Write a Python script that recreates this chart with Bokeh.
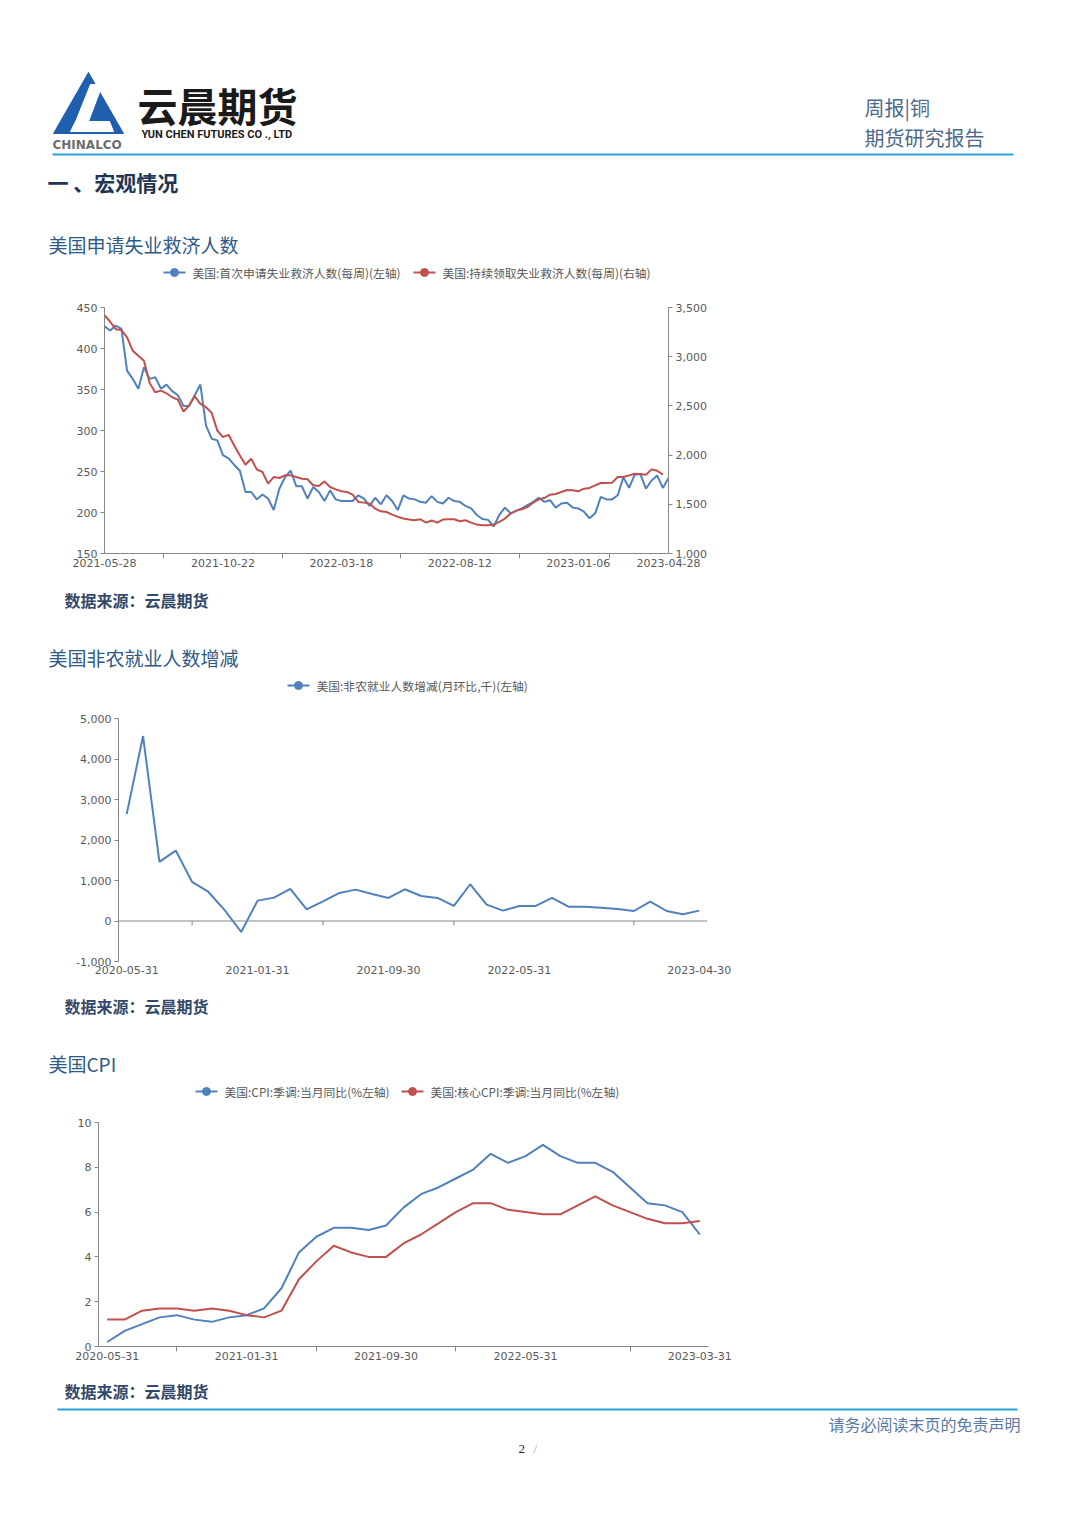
import numpy as np
from bokeh.plotting import figure
from bokeh.layouts import column
from bokeh.models import Range1d, LinearAxis, FixedTicker, NumeralTickFormatter, Span
from bokeh.core.properties import value
from bokeh.embed import file_html
from bokeh.resources import INLINE

# ---------------- data ----------------
# Chart 1: weekly, 2021-05-28 .. 2023-04-28
claims_tick_labels = ["2021-05-28", "2021-10-22", "2022-03-18", "2022-08-12", "2023-01-06", "2023-04-28"]
claims_tick_index = [0, 21, 42, 63, 84, 100]
initial_claims = [427, 422, 428, 424, 373, 363, 351, 377, 363, 365,
                  351, 356, 348, 343, 330, 330, 343, 356, 306, 290,
                  288, 270, 266, 258, 251, 225, 225, 216, 222, 217,
                  203, 229, 243, 251, 232, 232, 217, 231, 225, 214,
                  227, 216, 214, 214, 214, 221, 217, 208, 218, 210,
                  221, 214, 203, 221, 217, 216, 213, 212, 220, 213,
                  211, 218, 214, 213, 208, 205, 197, 192, 191, 183,
                  197, 206, 199, 202, 205, 209, 213, 218, 213, 215,
                  206, 211, 212, 206, 205, 201, 193, 199, 219, 216,
                  216, 221, 243, 230, 246, 247, 229, 239, 245, 230,
                  242]
continued_claims = [3422, 3355, 3280, 3270, 3196, 3061, 3010, 2960, 2733, 2639,
                    2655, 2628, 2588, 2564, 2443, 2503, 2598, 2520, 2487, 2429,
                    2250, 2183, 2206, 2098, 1997, 1902, 1963, 1855, 1828, 1710,
                    1777, 1767, 1794, 1794, 1777, 1760, 1754, 1693, 1686, 1733,
                    1676, 1652, 1632, 1625, 1598, 1524, 1517, 1507, 1456, 1429,
                    1422, 1395, 1372, 1355, 1345, 1338, 1348, 1314, 1335, 1314,
                    1345, 1348, 1348, 1328, 1338, 1314, 1294, 1287, 1287, 1294,
                    1321, 1355, 1406, 1436, 1450, 1473, 1517, 1551, 1564, 1598,
                    1605, 1625, 1645, 1642, 1632, 1659, 1666, 1693, 1716, 1716,
                    1720, 1777, 1777, 1794, 1811, 1808, 1801, 1855, 1841, 1801]

# Chart 2: monthly 2020-05-31 .. 2023-04-30
nfp_tick_labels = ["2020-05-31", "2021-01-31", "2021-09-30", "2022-05-31", "2023-04-30"]
nfp_tick_index = [0, 8, 16, 24, 35]
nonfarm = [2638, 4567, 1459, 1739, 964, 717, 264, -272, 503, 577,
           791, 289, 486, 692, 775, 668, 569, 783, 618, 569,
           371, 907, 404, 256, 371, 371, 569, 354, 354, 330,
           297, 247, 478, 247, 165, 256]

# Chart 3: monthly 2020-05-31 .. 2023-03-31
cpi_tick_labels = ["2020-05-31", "2021-01-31", "2021-09-30", "2022-05-31", "2023-03-31"]
cpi_tick_index = [0, 8, 16, 24, 34]
cpi = [0.2, 0.7, 1.0, 1.3, 1.4, 1.2, 1.1, 1.3, 1.4, 1.7,
       2.6, 4.2, 4.9, 5.3, 5.3, 5.2, 5.4, 6.2, 6.8, 7.1,
       7.5, 7.9, 8.6, 8.2, 8.5, 9.0, 8.5, 8.2, 8.2, 7.8,
       7.1, 6.4, 6.3, 6.0, 5.0]
core_cpi = [1.2, 1.2, 1.6, 1.7, 1.7, 1.6, 1.7, 1.6, 1.4, 1.3,
            1.6, 3.0, 3.8, 4.5, 4.2, 4.0, 4.0, 4.6, 5.0, 5.5,
            6.0, 6.4, 6.4, 6.1, 6.0, 5.9, 5.9, 6.3, 6.7, 6.3,
            6.0, 5.7, 5.5, 5.5, 5.6]

# ---------------- style ----------------
W = 1080
CJK = "Noto Sans CJK SC"
TICKFONT = "DejaVu Sans"
BLUE = "#4f81bd"
RED = "#c0504d"
AXIS = "#868686"
TICKTXT = "#595959"
TITLE_C = "#2e5a88"
SRC_C = "#34496a"


def deco(h):
    p = figure(width=W, height=h, x_range=Range1d(0, W), y_range=Range1d(h, 0),
               output_backend="svg", toolbar_location=None, x_axis_type=None,
               y_axis_type=None, min_border=0, outline_line_color=None,
               frame_align=False)
    p.grid.visible = False
    return p


def txt(p, x, y, s, size, color, font=CJK, style="normal", align="left"):
    p.text(x=[x], y=[y], text=[s], text_font=value(font), text_font_size=f"{size}px",
           text_color=color, text_baseline="middle", text_align=align,
           text_font_style=style)


def legend_item(p, x, y, color, label):
    p.line(x=[x, x + 22], y=[y, y], line_color=color, line_width=2)
    p.scatter(x=[x + 11], y=[y], size=8, fill_color=color, line_color=color)
    txt(p, x + 29, y, label, 11.8, TICKTXT)


def style_axis(ax):
    ax.axis_line_color = AXIS
    ax.major_tick_line_color = AXIS
    ax.major_tick_out = 4
    ax.major_tick_in = 0
    ax.minor_tick_line_color = None
    ax.major_label_text_font = TICKFONT
    ax.major_label_text_font_size = "11px"
    ax.major_label_text_color = TICKTXT
    ax.major_label_standoff = 3


def chart(h, left, right, top, bottom, xr, yr):
    p = figure(width=W, height=h, x_range=xr, y_range=yr, output_backend="svg",
               toolbar_location=None, min_border_left=left, min_border_right=right,
               min_border_top=top, min_border_bottom=bottom, outline_line_color=None,
               frame_align=False)
    p.grid.visible = False
    for ax in p.axis:
        style_axis(ax)
    return p


def style_xaxis(ax, ticks, labels, minor, line=True, standoff=0):
    ax.ticker = FixedTicker(ticks=ticks, minor_ticks=minor)
    ax.major_label_overrides = {t: l for t, l in zip(ticks, labels)}
    ax.major_tick_line_color = None
    ax.major_tick_out = 0
    ax.minor_tick_line_color = AXIS if line else None
    ax.minor_tick_out = 5
    ax.minor_tick_in = 0
    ax.major_label_standoff = standoff
    if not line:
        ax.axis_line_color = None


# ---------------- header ----------------
hdr = deco(295)
hdr.patch(x=[88, 53, 123], y=[72, 133, 133], color="#1f5fae")
hdr.patch(x=[90, 102, 88, 109, 113, 70, 76], y=[84, 84, 121, 121, 131, 131, 119], color="white")
txt(hdr, 52, 144, "CHINALCO", 12, "#6d6d6d", font="DejaVu Sans", style="bold")
txt(hdr, 137, 104, "云晨期货", 40, "#1a1a1a", style="bold")
txt(hdr, 141, 134, "YUN CHEN FUTURES CO ., LTD", 11, "#1a1a1a", font="Roboto", style="bold")
txt(hdr, 864, 107, "周报|铜", 20, "#4d6a8c")
txt(hdr, 864, 137, "期货研究报告", 20, "#4d6a8c")
hdr.line(x=[52, 1013], y=[154, 154], line_color="#2a9fd8", line_width=2)
txt(hdr, 47, 181, "一 、宏观情况", 21, "#1f3556", style="bold")
txt(hdr, 48, 244, "美国申请失业救济人数", 19, TITLE_C)
legend_item(hdr, 163, 272, BLUE, "美国:首次申请失业救济人数(每周)(左轴)")
legend_item(hdr, 413, 272, RED, "美国:持续领取失业救济人数(每周)(右轴)")

# ---------------- chart 1 ----------------
wk = list(range(len(initial_claims)))
c1 = chart(285, 104, 412, 12, 27, Range1d(0, 100), Range1d(150, 450))
c1.extra_y_ranges = {"right": Range1d(1000, 3500)}
rax = LinearAxis(y_range_name="right")
style_axis(rax)
rax.ticker = FixedTicker(ticks=[1000, 1500, 2000, 2500, 3000, 3500])
rax.formatter = NumeralTickFormatter(format="0,0")
c1.add_layout(rax, "right")
c1.yaxis[0].ticker = FixedTicker(ticks=[150, 200, 250, 300, 350, 400, 450])
style_xaxis(c1.xaxis[0], claims_tick_index, claims_tick_labels, [10.5, 31.5, 52.5, 73.5, 89.5])
c1.line(wk, initial_claims, line_color=BLUE, line_width=2)
c1.line(wk[:len(continued_claims)], continued_claims, line_color=RED, line_width=2, y_range_name="right")

# ---------------- middle 1 ----------------
m1 = deco(125)
txt(m1, 64, 19, "数据来源：云晨期货", 16, SRC_C, style="bold")
txt(m1, 48, 77, "美国非农就业人数增减", 19, TITLE_C)
legend_item(m1, 287, 105, BLUE, "美国:非农就业人数增减(月环比,千)(左轴)")

# ---------------- chart 2 ----------------
mo2 = list(range(len(nonfarm)))
c2 = chart(280, 118, 373, 13, 24, Range1d(-0.5, 35.5), Range1d(-1000, 5000))
c2.yaxis[0].ticker = FixedTicker(ticks=[-1000, 0, 1000, 2000, 3000, 4000, 5000])
c2.yaxis[0].formatter = NumeralTickFormatter(format="0,0")
style_xaxis(c2.xaxis[0], nfp_tick_index, nfp_tick_labels, [], line=False, standoff=4)
c2.add_layout(Span(location=0, dimension="width", line_color=AXIS, line_width=1))
c2_minor = [4, 12, 20, 31]
c2.segment(x0=c2_minor, y0=[0] * 4, x1=c2_minor, y1=[-110] * 4, line_color=AXIS, line_width=1)
c2.line(mo2, nonfarm, line_color=BLUE, line_width=2)

# ---------------- middle 2 ----------------
m2 = deco(125)
txt(m2, 64, 20, "数据来源：云晨期货", 16, SRC_C, style="bold")
txt(m2, 48, 78, "美国CPI", 19, TITLE_C)
legend_item(m2, 195, 106, BLUE, "美国:CPI:季调:当月同比(%左轴)")
legend_item(m2, 401, 106, RED, "美国:核心CPI:季调:当月同比(%左轴)")

# ---------------- chart 3 ----------------
mo3 = list(range(len(cpi)))
c3 = chart(260, 98, 372, 12, 24, Range1d(-0.5, 34.5), Range1d(0, 10))
c3.yaxis[0].ticker = FixedTicker(ticks=[0, 2, 4, 6, 8, 10])
style_xaxis(c3.xaxis[0], cpi_tick_index, cpi_tick_labels, [4, 12, 20, 30])
c3.line(mo3, cpi, line_color=BLUE, line_width=2)
c3.line(mo3, core_cpi, line_color=RED, line_width=2)

# ---------------- footer ----------------
ft = deco(156)
txt(ft, 64, 20, "数据来源：云晨期货", 16, SRC_C, style="bold")
ft.line(x=[57, 1017], y=[39, 39], line_color="#29a3dc", line_width=2)
txt(ft, 1020, 53, "请务必阅读末页的免责声明", 16, "#5b7aa3", align="right")
txt(ft, 518, 78, "2", 13, "#222222", font="Liberation Serif")
txt(ft, 533, 78, "/", 13, "#aaaaaa", font="Liberation Serif")

page = column(hdr, c1, m1, c2, m2, c3, ft, spacing=0)
open("out.html", "w").write(file_html(page, INLINE))
